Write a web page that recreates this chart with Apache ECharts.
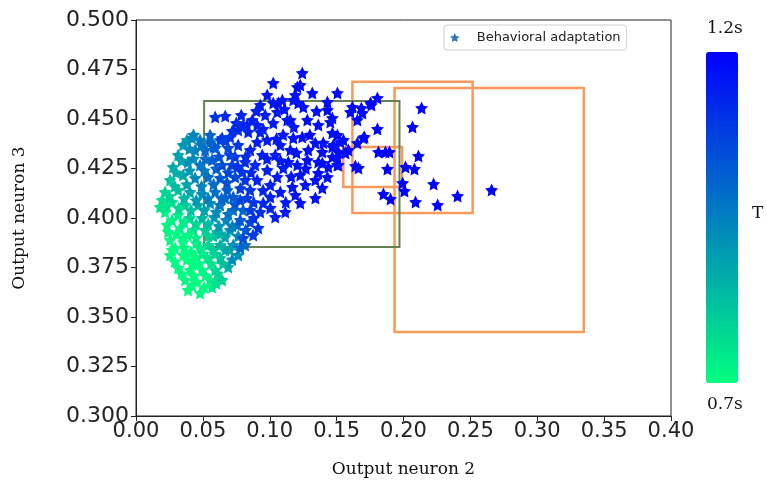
<!DOCTYPE html>
<html>
<head>
<meta charset="utf-8">
<script src="https://cdn.jsdelivr.net/npm/echarts@6/dist/echarts.min.js"></script>
<style>
  html, body { margin: 0; padding: 0; background: #fff; }
  #chart { width: 767px; height: 491px; }
</style>
</head>
<body>
<div id="chart"></div>
<script>
// [output neuron 2, output neuron 3, T (s)]
// scattered blue stars on the right / top
const outerPoints = [
  [0.2067, 0.4460, 1.2], [0.1805, 0.4450, 1.19], [0.1708, 0.4409, 1.19], [0.1655, 0.4379, 1.18],
  [0.2112, 0.4313, 1.2], [0.1813, 0.4333, 1.19], [0.1865, 0.4333, 1.19], [0.1895, 0.4333, 1.2],
  [0.1640, 0.4263, 1.18], [0.1663, 0.4253, 1.18], [0.1880, 0.4248, 1.2], [0.2015, 0.4258, 1.2],
  [0.2082, 0.4248, 1.2], [0.1993, 0.4177, 1.2], [0.2007, 0.4136, 1.2], [0.2225, 0.4172, 1.2],
  [0.1850, 0.4121, 1.2], [0.1903, 0.4096, 1.2], [0.2090, 0.4081, 1.2], [0.2255, 0.4066, 1.2],
  [0.2404, 0.4111, 1.2], [0.2659, 0.4141, 1.2], [0.2135, 0.4556, 1.2], [0.1805, 0.4606, 1.19],
  [0.1760, 0.4571, 1.19], [0.1685, 0.4556, 1.18], [0.1618, 0.4561, 1.18], [0.1603, 0.4535, 1.18],
  [0.1655, 0.4495, 1.18], [0.1700, 0.4404, 1.19], [0.1506, 0.4419, 1.17], [0.1551, 0.4394, 1.17],
  [0.1476, 0.4369, 1.17], [0.1513, 0.4333, 1.17], [0.1566, 0.4328, 1.18], [0.1588, 0.4343, 1.18],
  [0.1506, 0.4268, 1.17], [0.1468, 0.4308, 1.17], [0.1243, 0.4732, 1.18], [0.1026, 0.4682, 1.17],
  [0.1228, 0.4672, 1.18], [0.1206, 0.4662, 1.17], [0.0981, 0.4621, 1.16], [0.1318, 0.4631, 1.18],
  [0.1506, 0.4631, 1.18], [0.1191, 0.4621, 1.17], [0.1176, 0.4596, 1.17], [0.1213, 0.4581, 1.17],
  [0.1251, 0.4561, 1.17], [0.1064, 0.4581, 1.16], [0.1431, 0.4586, 1.18], [0.1753, 0.4581, 1.19],
  [0.1431, 0.4545, 1.18], [0.1693, 0.4530, 1.18], [0.1154, 0.4495, 1.17], [0.1281, 0.4495, 1.17],
  [0.1363, 0.4470, 1.17], [0.1453, 0.4485, 1.17], [0.1468, 0.4505, 1.17], [0.1176, 0.4404, 1.16],
  [0.1243, 0.4409, 1.17], [0.1341, 0.4379, 1.17], [0.1468, 0.4429, 1.17], [0.1528, 0.4384, 1.17],
  [0.1468, 0.4359, 1.17], [0.1288, 0.4343, 1.17], [0.1393, 0.4333, 1.17], [0.1506, 0.4308, 1.17],
  [0.1363, 0.4283, 1.17], [0.1438, 0.4258, 1.17], [0.1026, 0.4581, 1.16], [0.1094, 0.4596, 1.16],
  [0.0966, 0.4520, 1.15], [0.1056, 0.4535, 1.16], [0.1131, 0.4495, 1.16], [0.0929, 0.4571, 1.15],
  [0.0787, 0.4520, 1.13], [0.0592, 0.4510, 1.1], [0.0667, 0.4515, 1.12], [0.0869, 0.4495, 1.14],
  [0.0801, 0.4470, 1.13], [0.0906, 0.4470, 1.14], [0.1026, 0.4480, 1.15], [0.0764, 0.4444, 1.12],
  [0.0839, 0.4434, 1.13], [0.0929, 0.4434, 1.14], [0.0704, 0.4409, 1.1], [0.0644, 0.4404, 1.08],
  [0.0981, 0.4394, 1.15], [0.0906, 0.4384, 1.14], [0.0554, 0.4384, 1.0], [0.0479, 0.4394, 0.96],
  [0.0419, 0.4404, 0.93], [0.1228, 0.4076, 1.17], [0.1341, 0.4101, 1.17], [0.1393, 0.4152, 1.17],
  [0.1341, 0.4192, 1.17], [0.1431, 0.4207, 1.17], [0.1363, 0.4227, 1.17], [0.1513, 0.4268, 1.17],
  [0.1393, 0.4278, 1.17], [0.1169, 0.4157, 1.16], [0.1079, 0.4131, 1.15], [0.1004, 0.4106, 1.14],
  [0.1116, 0.4030, 1.15], [0.1041, 0.4005, 1.14], [0.0914, 0.3950, 1.1], [0.0876, 0.3914, 1.08],
  [0.0801, 0.3899, 1.05], [0.0951, 0.4076, 1.12], [0.0929, 0.4030, 1.1], [0.1281, 0.4293, 1.17],
  [0.1206, 0.4268, 1.16], [0.1139, 0.4283, 1.16], [0.0906, 0.4192, 1.13], [0.0981, 0.4242, 1.14],
  [0.1056, 0.4207, 1.15], [0.0854, 0.4141, 1.1], [0.0779, 0.4091, 1.07], [0.0742, 0.4207, 1.06],
  [0.0727, 0.4106, 1.02], [0.1079, 0.4369, 1.15], [0.1154, 0.4343, 1.16], [0.1041, 0.4318, 1.15],
  [0.0944, 0.4318, 1.14], [0.0854, 0.4343, 1.13], [0.0816, 0.4283, 1.11], [0.0891, 0.4268, 1.13],
  [0.1101, 0.4253, 1.15], [0.1228, 0.4217, 1.16], [0.1266, 0.4167, 1.16], [0.1004, 0.4167, 1.14],
  [0.0816, 0.4192, 1.1], [0.0854, 0.4040, 1.08], [0.1004, 0.4051, 1.13], [0.1191, 0.4116, 1.16],
  [0.0779, 0.3990, 1.03], [0.0704, 0.4318, 1.07], [0.0644, 0.4268, 1.05],
  [0.0950, 0.4450, 1.14], [0.1100, 0.4420, 1.15], [0.1050, 0.4400, 1.15], [0.1180, 0.4460, 1.16],
  [0.1300, 0.4420, 1.17], [0.0980, 0.4300, 1.14], [0.1080, 0.4290, 1.15], [0.1200, 0.4330, 1.16],
  [0.1160, 0.4210, 1.16], [0.0950, 0.4140, 1.13], [0.0880, 0.4000, 1.1], [0.0830, 0.4470, 1.13],
  [0.0750, 0.4480, 1.12], [0.0900, 0.4540, 1.14], [0.1110, 0.4550, 1.16], [0.1350, 0.4540, 1.17],
  [0.1400, 0.4380, 1.17], [0.1270, 0.4250, 1.17], [0.1120, 0.4080, 1.15]
];

// dense cluster on the left (green -> teal -> blue)
const clusterPoints = [
  [0.0382, 0.4394, 0.9], [0.0315, 0.4318, 0.88], [0.0277, 0.4258, 0.86], [0.0255, 0.4192, 0.82],
  [0.0217, 0.4131, 0.78], [0.0195, 0.4091, 0.76], [0.0442, 0.4343, 0.95], [0.0517, 0.4343, 1.0],
  [0.0592, 0.4354, 1.02], [0.0389, 0.4283, 0.92], [0.0479, 0.4268, 0.97], [0.0569, 0.4293, 1.02],
  [0.0352, 0.4217, 0.87], [0.0442, 0.4202, 0.93], [0.0539, 0.4207, 0.98], [0.0629, 0.4202, 1.03],
  [0.0315, 0.4141, 0.82], [0.0404, 0.4131, 0.88], [0.0494, 0.4121, 0.93], [0.0592, 0.4131, 0.98],
  [0.0682, 0.4141, 1.02], [0.0270, 0.4081, 0.76], [0.0367, 0.4066, 0.8], [0.0464, 0.4066, 0.86],
  [0.0554, 0.4076, 0.92], [0.0629, 0.4066, 0.97], [0.0727, 0.4040, 0.98], [0.0217, 0.4030, 0.72],
  [0.0315, 0.4015, 0.74], [0.0404, 0.4000, 0.78], [0.0494, 0.4000, 0.84], [0.0584, 0.4005, 0.9],
  [0.0674, 0.3990, 0.94], [0.0232, 0.3965, 0.72], [0.0330, 0.3950, 0.72], [0.0427, 0.3939, 0.75],
  [0.0517, 0.3939, 0.8], [0.0607, 0.3929, 0.86], [0.0704, 0.3939, 0.92], [0.0255, 0.3889, 0.71],
  [0.0352, 0.3879, 0.7], [0.0449, 0.3874, 0.73], [0.0539, 0.3864, 0.78], [0.0629, 0.3864, 0.85],
  [0.0727, 0.3864, 0.92], [0.0816, 0.3864, 0.98], [0.0255, 0.3813, 0.72], [0.0352, 0.3813, 0.7],
  [0.0442, 0.3803, 0.71], [0.0532, 0.3798, 0.75], [0.0629, 0.3798, 0.82], [0.0764, 0.3813, 0.92],
  [0.0315, 0.3748, 0.7], [0.0404, 0.3737, 0.7], [0.0494, 0.3737, 0.72], [0.0592, 0.3737, 0.78],
  [0.0689, 0.3753, 0.86], [0.0367, 0.3687, 0.7], [0.0457, 0.3677, 0.7], [0.0554, 0.3687, 0.73],
  [0.0644, 0.3687, 0.8], [0.0389, 0.3636, 0.7], [0.0479, 0.3621, 0.71], [0.0569, 0.3651, 0.74],
  [0.0419, 0.3768, 0.7], [0.0292, 0.3848, 0.7], [0.0389, 0.3914, 0.72], [0.0300, 0.3919, 0.71],
  [0.0479, 0.3848, 0.74], [0.0577, 0.3838, 0.8], [0.0666, 0.3838, 0.86], [0.0577, 0.3909, 0.82],
  [0.0666, 0.3904, 0.88], [0.0764, 0.3909, 0.94], [0.0180, 0.4056, 0.75], [0.0352, 0.4369, 0.9],
  [0.0554, 0.4419, 1.0], [0.0629, 0.4394, 1.05], [0.0689, 0.4354, 1.05], [0.0764, 0.4369, 1.1],
  [0.0719, 0.4268, 1.07], [0.0794, 0.4232, 1.1], [0.0667, 0.4101, 1.0], [0.0831, 0.4101, 1.08],
  [0.0801, 0.4040, 1.0], [0.0757, 0.3965, 0.97], [0.0854, 0.3980, 1.05],
  [0.0290, 0.3780, 0.7], [0.0380, 0.3790, 0.7], [0.0470, 0.3770, 0.71], [0.0560, 0.3770, 0.75],
  [0.0650, 0.3770, 0.82], [0.0340, 0.3720, 0.7], [0.0430, 0.3710, 0.7], [0.0520, 0.3710, 0.72],
  [0.0610, 0.3720, 0.78], [0.0420, 0.3660, 0.7], [0.0510, 0.3650, 0.71], [0.0600, 0.3670, 0.76],
  [0.0270, 0.3840, 0.7], [0.0360, 0.3850, 0.7], [0.0410, 0.3830, 0.71], [0.0500, 0.3820, 0.74],
  [0.0590, 0.3820, 0.79], [0.0700, 0.3840, 0.88], [0.0240, 0.3930, 0.72], [0.0350, 0.3900, 0.71],
  [0.0450, 0.3900, 0.74], [0.0540, 0.3910, 0.79], [0.0630, 0.3920, 0.85], [0.0270, 0.3990, 0.73],
  [0.0360, 0.3980, 0.74], [0.0450, 0.3970, 0.78], [0.0540, 0.3970, 0.83], [0.0620, 0.3960, 0.9],
  [0.0720, 0.3960, 0.95], [0.0230, 0.4060, 0.75], [0.0320, 0.4050, 0.77], [0.0410, 0.4040, 0.82],
  [0.0510, 0.4040, 0.88], [0.0600, 0.4030, 0.93], [0.0690, 0.4020, 0.97], [0.0250, 0.4110, 0.79],
  [0.0360, 0.4100, 0.84], [0.0450, 0.4090, 0.9], [0.0540, 0.4100, 0.95], [0.0640, 0.4100, 1.0],
  [0.0740, 0.4070, 1.03], [0.0290, 0.4160, 0.83], [0.0380, 0.4170, 0.88], [0.0490, 0.4160, 0.94],
  [0.0580, 0.4170, 0.98], [0.0680, 0.4180, 1.04], [0.0780, 0.4150, 1.08], [0.0300, 0.4230, 0.86],
  [0.0400, 0.4240, 0.9], [0.0510, 0.4240, 0.96], [0.0600, 0.4250, 1.02], [0.0690, 0.4230, 1.06],
  [0.0760, 0.4260, 1.1], [0.0340, 0.4290, 0.88], [0.0430, 0.4300, 0.93], [0.0520, 0.4300, 0.99],
  [0.0620, 0.4310, 1.04], [0.0740, 0.4310, 1.09], [0.0820, 0.4310, 1.11], [0.0400, 0.4350, 0.92],
  [0.0490, 0.4370, 0.97], [0.0580, 0.4360, 1.02], [0.0670, 0.4390, 1.06], [0.0720, 0.4440, 1.1],
  [0.0430, 0.4420, 0.94], [0.0860, 0.4230, 1.12], [0.0880, 0.4080, 1.1], [0.0820, 0.3940, 1.03],
  [0.0780, 0.3850, 1.0], [0.0720, 0.3790, 0.93]
];

// rectangles [x0, y0, x1, y1]
const greenBox = [0.0509, 0.3854, 0.1970, 0.4591];
const orangeBoxes = [
  [0.1618, 0.4025, 0.2517, 0.4688],
  [0.1550, 0.4157, 0.1990, 0.4359],
  [0.1933, 0.3424, 0.3348, 0.4657]
];

// star marker, fairly fat like matplotlib '*' with its edge
const starPath = 'path://M50,0 L64.69,29.77 L97.55,34.55 L73.78,57.73 L79.39,90.45 L50,75 L20.61,90.45 L26.22,57.73 L2.45,34.55 L35.31,29.77 Z';

function boxArea(b) {
  return [{ coord: [b[0], b[1]] }, { coord: [b[2], b[3]] }];
}

const chart = echarts.init(document.getElementById('chart'));
chart.setOption({
  animation: false,
  grid: {
    left: 136, right: 96, top: 20, bottom: 75,
    show: true, borderColor: '#222', borderWidth: 1
  },
  legend: {
    data: [{ name: 'Behavioral adaptation', icon: starPath, itemStyle: { color: '#2a7ab8' } }],
    left: 444, top: 25,
    padding: [6, 6],
    borderColor: '#d0d0d0', borderWidth: 1, borderRadius: 3,
    itemWidth: 34, itemHeight: 9,
    textStyle: { fontFamily: 'DejaVu Sans', fontSize: 13, color: '#222' }
  },
  xAxis: {
    type: 'value', min: 0, max: 0.4, interval: 0.05,
    name: 'Output neuron 2', nameLocation: 'middle', nameGap: 45,
    nameTextStyle: { fontFamily: 'DejaVu Serif', fontSize: 17, color: '#111' },
    axisLine: { show: true, lineStyle: { color: '#222' } },
    axisTick: { show: true, length: 5, lineStyle: { color: '#222' } },
    axisLabel: {
      fontFamily: 'DejaVu Sans', fontSize: 21, color: '#222', margin: 5,
      formatter: v => v.toFixed(2)
    },
    splitLine: { show: false }
  },
  yAxis: {
    type: 'value', min: 0.3, max: 0.5, interval: 0.025,
    name: 'Output neuron 3', nameLocation: 'middle', nameGap: 108,
    nameTextStyle: { fontFamily: 'DejaVu Serif', fontSize: 17, color: '#111' },
    axisLine: { show: true, lineStyle: { color: '#222' } },
    axisTick: { show: true, length: 5, lineStyle: { color: '#222' } },
    axisLabel: {
      fontFamily: 'DejaVu Sans', fontSize: 22, color: '#222', margin: 7,
      formatter: v => v.toFixed(3)
    },
    splitLine: { show: false }
  },
  visualMap: {
    type: 'continuous',
    seriesIndex: 0,
    dimension: 2,
    min: 0.7, max: 1.2,
    calculable: false,
    left: 706, top: 52,
    padding: 0,
    itemWidth: 32, itemHeight: 331,
    text: null,
    showLabel: false,
    inRange: { color: ['#00ff80', '#0000ff'], opacity: 1 }
  },
  graphic: [
    { type: 'text', left: 707, top: 20, style: { text: '1.2s', font: '17px "DejaVu Serif"', fill: '#111' } },
    { type: 'text', left: 707, top: 396, style: { text: '0.7s', font: '17px "DejaVu Serif"', fill: '#111' } },
    { type: 'text', left: 752, top: 205, style: { text: 'T', font: '17px "DejaVu Serif"', fill: '#111' } }
  ],
  series: [
    {
      name: 'Behavioral adaptation',
      type: 'scatter',
      z: 3,
      symbol: starPath,
      symbolSize: 13,
      itemStyle: { opacity: 1 },
      data: clusterPoints.concat(outerPoints)
    },
    {
      name: 'boxes',
      type: 'scatter',
      z: 1,
      data: [],
      silent: true,
      markArea: {
        silent: true,
        itemStyle: { color: 'rgba(0,0,0,0)', borderColor: '#f79a5c', borderWidth: 2.5 },
        data: orangeBoxes.map(boxArea)
      }
    },
    {
      name: 'green box',
      type: 'scatter',
      z: 1,
      data: [],
      silent: true,
      markArea: {
        silent: true,
        itemStyle: { color: 'rgba(0,0,0,0)', borderColor: '#66804f', borderWidth: 2 },
        data: [boxArea(greenBox)]
      }
    }
  ]
});
</script>
</body>
</html>
